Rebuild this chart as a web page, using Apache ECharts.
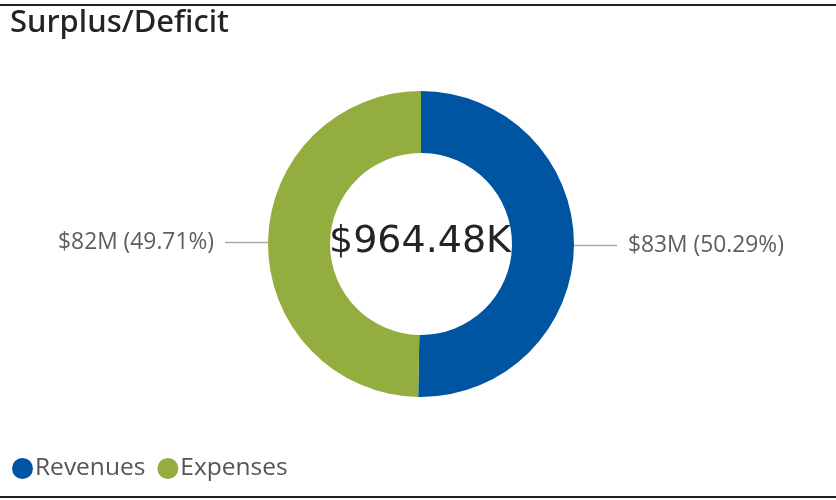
<!DOCTYPE html>
<html>
<head>
<meta charset="utf-8">
<script src="https://cdn.jsdelivr.net/npm/echarts@6/dist/echarts.min.js"></script>
<style>
  html, body { margin: 0; padding: 0; background: #fff; }
  #chart { width: 836px; height: 500px; }
</style>
</head>
<body>
<div id="chart"></div>
<script>
// data
const categories = ['Revenues', 'Expenses'];
const amounts = [82982240, 82017760];
const colors = ['#0055A2', '#93AE3F'];
const centerText = '$964.48K';
const chartTitle = 'Surplus/Deficit';

const total = amounts.reduce((a, b) => a + b, 0);

const chart = echarts.init(document.getElementById('chart'));

chart.setOption({
  backgroundColor: '#fff',
  animation: false,
  title: {
    text: chartTitle,
    left: 5,
    top: 3,
    textStyle: {
      fontFamily: 'Noto Sans',
      fontSize: 31,
      fontWeight: 500,
      color: '#252423'
    }
  },
  legend: {
    left: 7,
    top: 451,
    icon: 'circle',
    itemWidth: 21,
    itemHeight: 21,
    itemGap: 12,
    textStyle: {
      fontFamily: 'Open Sans',
      fontSize: 24.5,
      color: '#555',
      padding: [0, 0, 0, -3]
    },
    data: categories
  },
  graphic: [
    { type: 'rect', shape: { x: 0, y: 4, width: 836, height: 2 }, style: { fill: '#222' } },
    { type: 'rect', shape: { x: 0, y: 496, width: 836, height: 2 }, style: { fill: '#222' } },
    {
      type: 'text',
      style: {
        text: centerText,
        x: 420,
        y: 242,
        align: 'center',
        verticalAlign: 'middle',
        fontFamily: 'DejaVu Sans',
        fontSize: 38,
        fill: '#252423'
      }
    }
  ],
  series: [{
    type: 'pie',
    center: [421, 244],
    radius: [91, 153],
    startAngle: 90,
    clockwise: true,
    avoidLabelOverlap: false,
    itemStyle: { borderWidth: 0 },
    label: {
      show: true,
      fontFamily: 'Open Sans',
      fontSize: 22.8,
      color: '#605E5C',
      distanceToLabelLine: 11,
      formatter: p => '$' + Math.round(p.value / 1e6) + 'M (' + (p.value / total * 100).toFixed(2) + '%)'
    },
    labelLine: {
      show: true,
      length: 5,
      length2: 38,
      lineStyle: { color: '#AAAAAA', width: 1.5 }
    },
    emphasis: { disabled: true },
    data: categories.map((c, i) => ({ name: c, value: amounts[i], itemStyle: { color: colors[i] } }))
  }]
});
</script>
</body>
</html>
